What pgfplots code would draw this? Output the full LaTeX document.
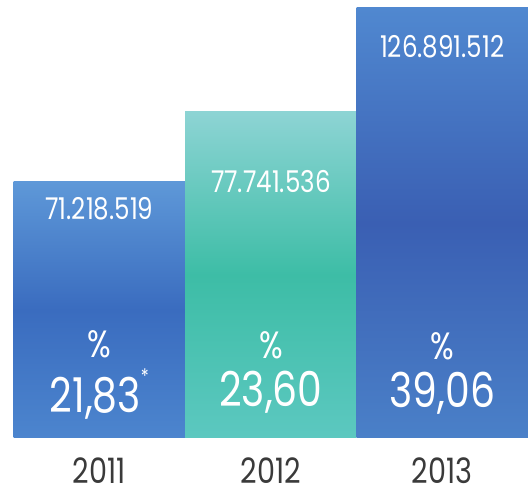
\documentclass[border=0pt]{standalone}
\usepackage{pgfplots}
\pgfplotsset{compat=1.18}
\usepackage{fontspec}
\setmainfont{Poppins}
\newfontfamily\hand{Poppins}[FakeStretch=0.82]
\definecolor{bA}{HTML}{3A6CBF}
\definecolor{bAtop}{HTML}{5E98D8}
\definecolor{bAbot}{HTML}{4C85CE}
\definecolor{gB}{HTML}{3DBDA6}
\definecolor{gBtop}{HTML}{8DD4D4}
\definecolor{gBbot}{HTML}{5CC8C0}
\definecolor{bC}{HTML}{3A5FB3}
\definecolor{bCtop}{HTML}{5088D0}
\definecolor{bCbot}{HTML}{4A80C8}
\definecolor{yeargray}{HTML}{3A3A3A}
\begin{document}
\begin{tikzpicture}[x=1pt,y=1pt]
\begin{axis}[
  at={(0pt,0pt)}, anchor=south west,
  scale only axis, width=528pt, height=438pt,
  xmin=-0.58, xmax=2.5, ymin=0, ymax=438,
  axis line style={draw=none}, tick style={draw=none},
  ytick=\empty,
  xtick={0,1,2}, xticklabels={2011,2012,2013},
  xticklabel style={font=\hand\fontsize{35}{35}\selectfont, text=yeargray, anchor=base, text depth=0pt, inner sep=0pt, yshift=-41pt},
  ybar, bar width=1, bar shift=0pt,
  clip=false,
]
\addplot[draw=none, top color=bAtop, bottom color=bAbot, middle color=bA] coordinates {(0,256)};
\addplot[draw=none, top color=gBtop, bottom color=gBbot, middle color=gB] coordinates {(1,326)};
\addplot[draw=none, top color=bCtop, bottom color=bCbot, middle color=bC] coordinates {(2,430)};
\begin{scope}[every node/.style={text=white, font=\hand}]
\node[font=\hand\fontsize{30}{30}\selectfont] at (axis cs:0,229) {71.218.519};
\node[font=\hand\fontsize{30}{30}\selectfont] at (axis cs:1,256) {77.741.536};
\node[font=\hand\fontsize{30}{30}\selectfont] at (axis cs:2,391) {126.891.512};
\node[font=\hand\fontsize{38}{38}\selectfont] at (axis cs:0,94) {\%};
\node[font=\hand\fontsize{38}{38}\selectfont] at (axis cs:1,93) {\%};
\node[font=\hand\fontsize{38}{38}\selectfont] at (axis cs:2,92) {\%};
\node[font=\hand\fontsize{48}{48}\selectfont] at (axis cs:0,44) {21,83\raisebox{0.6em}{\fontsize{20}{20}\selectfont *}};
\node[font=\hand\fontsize{48}{48}\selectfont] at (axis cs:1,46) {23,60};
\node[font=\hand\fontsize{48}{48}\selectfont] at (axis cs:2,45) {39,06};
\end{scope}
\end{axis}
\pgfresetboundingbox
\path[use as bounding box] (0pt,-54pt) rectangle (528pt,438pt);
\end{tikzpicture}
\end{document}
